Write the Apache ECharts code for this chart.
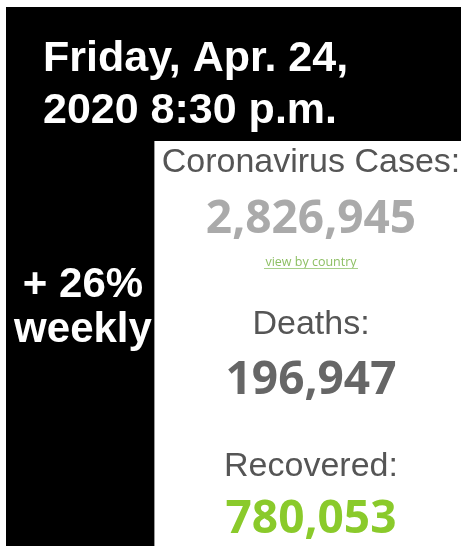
<!DOCTYPE html>
<html>
<head>
<meta charset="utf-8">
<title>Coronavirus Cases</title>
<script src="https://cdn.jsdelivr.net/npm/echarts@6/dist/echarts.min.js"></script>
<style>
  html, body { margin: 0; padding: 0; background: #fff; }
  #main { width: 467px; height: 546px; }
</style>
</head>
<body>
<div id="main"></div>
<script>
// data
const headerLines = ["Friday, Apr. 24,", "2020 8:30 p.m."];
const sideLines = ["+ 26%", "weekly"];
const statLabels = ["Coronavirus Cases:", "Deaths:", "Recovered:"];
const statValues = [2826945, 196947, 780053];
const linkText = "view by country";

const valueColors = ["#aaaaaa", "#666666", "#8aca2b"];
const labelFont = "34px 'Liberation Sans', Arial, sans-serif";
const valueFont = "bold 46px 'Open Sans', sans-serif";
const headFont = "bold 43px 'Liberation Sans', Arial, sans-serif";
const sideFont = "bold 42px 'Liberation Sans', Arial, sans-serif";

const chartDom = document.getElementById("main");
const myChart = echarts.init(chartDom, null, { renderer: "canvas" });

function fmt(v) {
  return v.toLocaleString("en-US");
}

const elements = [];

// black frame: top band + left column
elements.push({
  type: "rect",
  shape: { x: 6, y: 7, width: 455, height: 134 },
  style: { fill: "#000" },
});
elements.push({
  type: "rect",
  shape: { x: 6, y: 141, width: 148, height: 405 },
  style: { fill: "#000" },
});
// thin grey edge of the white panel
elements.push({
  type: "line",
  shape: { x1: 154.5, y1: 141, x2: 154.5, y2: 546 },
  style: { stroke: "#9a9a9a", lineWidth: 1 },
});

// header date
const headY = [59, 111];
headerLines.forEach(function (t, i) {
  elements.push({
    type: "text",
    style: {
      x: 43, y: headY[i], text: t, font: headFont,
      fill: "#fff", textAlign: "left", textVerticalAlign: "middle",
    },
  });
});

// weekly change
const sideY = [285, 330];
sideLines.forEach(function (t, i) {
  elements.push({
    type: "text",
    style: {
      x: 83, y: sideY[i], text: t, font: sideFont,
      fill: "#fff", textAlign: "center", textVerticalAlign: "middle",
    },
  });
});

// stats
const cx = 311;
const labelY = [163, 325, 467];
const valueY = [220, 381, 520];
statLabels.forEach(function (t, i) {
  elements.push({
    type: "text",
    style: {
      x: cx, y: labelY[i], text: t, font: labelFont,
      fill: "#555", textAlign: "center", textVerticalAlign: "middle",
    },
  });
  elements.push({
    type: "text",
    style: {
      x: cx, y: valueY[i], text: fmt(statValues[i]), font: valueFont,
      fill: valueColors[i], textAlign: "center", textVerticalAlign: "middle",
    },
  });
});

// link under cases
elements.push({
  type: "text",
  style: {
    x: cx, y: 262, text: linkText, font: "12.5px 'Open Sans', sans-serif",
    fill: "#8dbf63", textAlign: "center", textVerticalAlign: "middle",
  },
});
elements.push({
  type: "line",
  shape: { x1: 264, y1: 268.5, x2: 358, y2: 268.5 },
  style: { stroke: "#a8d08a", lineWidth: 1 },
});

const option = {
  backgroundColor: "#fff",
  animation: false,
  graphic: { elements: elements },
};

option && myChart.setOption(option);
</script>
</body>
</html>
